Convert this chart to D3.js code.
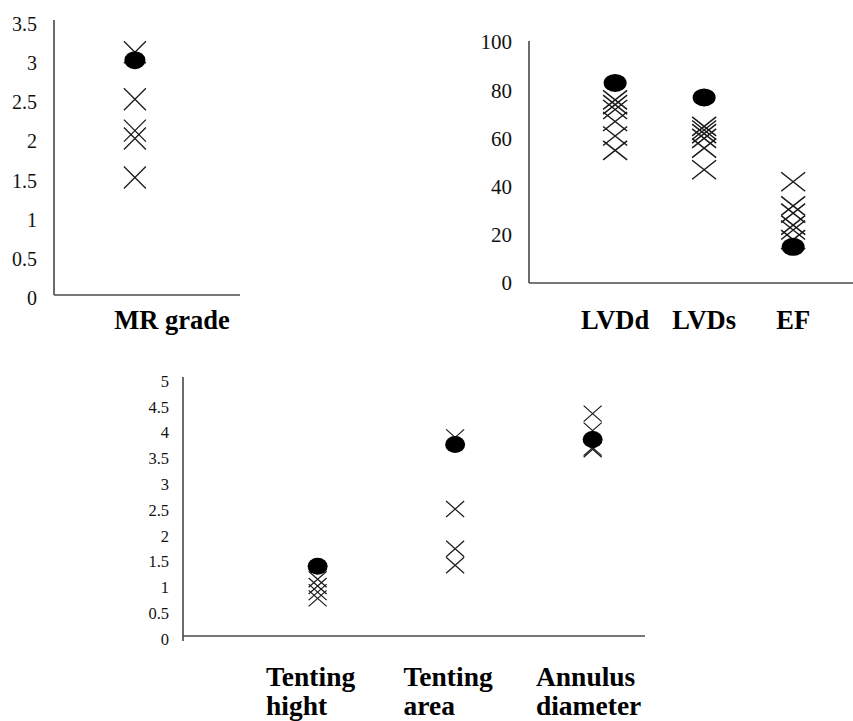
<!DOCTYPE html>
<html>
<head>
<meta charset="utf-8">
<script src="https://cdn.jsdelivr.net/npm/d3@7"></script>
<style>
  body { margin: 0; background: #fff; }
  svg { display: block; font-family: "Liberation Serif", "Times New Roman", serif; }
</style>
</head>
<body>
<svg id="chart" width="853" height="721"></svg>
<script>
// MR grade panel
const mrCategories = ['MR grade']
const mrTicks = [0, 0.5, 1, 1.5, 2, 2.5, 3, 3.5]
const mrDots = [3.0]
const mrCrosses = [[3.1, 2.5, 2.1, 2.0, 1.5]]

// LV dimensions panel
const lvCategories = ['LVDd', 'LVDs', 'EF']
const lvTicks = [0, 20, 40, 60, 80, 100]
const lvDots = [83, 77, 15]
const lvCrosses = [
    [76, 74, 72, 67, 61, 55],
    [65, 63.5, 62, 60, 56, 47],
    [42, 32, 29, 24, 22, 18]
]

// tenting / annulus panel
const tentCategories = ['Tenting hight', 'Tenting area', 'Annulus diameter']
const tentTicks = [0, 0.5, 1, 1.5, 2, 2.5, 3, 3.5, 4, 4.5, 5]
const tentDots = [1.35, 3.71, 3.81]
const tentCrosses = [
    [1.1, 0.97, 0.85, 0.73],
    [3.85, 2.46, 1.69, 1.37],
    [4.31, 3.98, 3.65, 3.62]
]

const svg = d3.select('#chart')

function drawPanel(o) {
    const y = d3.scaleLinear().domain([0, o.yMax]).range([o.bottom, o.top])
    const x = d3.scalePoint()
        .domain(o.categories)
        .range([o.left, o.right])
        .padding(o.padding)
        .align(o.align)

    const g = svg.append('g')

    // axis lines
    g.append('line')
        .attr('x1', o.left).attr('x2', o.left)
        .attr('y1', y(o.yMax) - 1).attr('y2', y(0) + (o.yExtend || 0))
        .attr('stroke', '#3a3a3a').attr('stroke-width', 1.5)
    g.append('line')
        .attr('x1', o.left).attr('x2', o.right)
        .attr('y1', y(0)).attr('y2', y(0))
        .attr('stroke', '#4a4a4a').attr('stroke-width', 1.5)

    // tick labels
    g.selectAll('text.tick')
        .data(o.ticks)
        .join('text')
        .attr('class', 'tick')
        .attr('x', o.left - o.tickGap)
        .attr('y', d => y(d) + o.tickDy)
        .attr('dy', '0.35em')
        .attr('text-anchor', 'end')
        .attr('font-size', o.tickFont)
        .attr('fill', '#111')
        .text(d => d)

    // crosses first, filled dots on top
    const crossData = o.crosses.flatMap((vals, i) => vals.map(v => ({ cat: o.categories[i], v })))
    const [w, h] = o.cross
    g.selectAll('path.cross')
        .data(crossData)
        .join('path')
        .attr('class', 'cross')
        .attr('transform', d => `translate(${x(d.cat)},${y(d.v)})`)
        .attr('d', `M${-w},${-h}L${w},${h}M${-w},${h}L${w},${-h}`)
        .attr('fill', 'none')
        .attr('stroke', '#1a1a1a')
        .attr('stroke-width', o.crossWidth)

    g.selectAll('ellipse.dot')
        .data(o.dots)
        .join('ellipse')
        .attr('class', 'dot')
        .attr('cx', (d, i) => x(o.categories[i]))
        .attr('cy', d => y(d))
        .attr('rx', o.dot[0])
        .attr('ry', o.dot[1])
        .attr('fill', '#000')

    // category labels
    const labels = g.selectAll('text.cat')
        .data(o.categories)
        .join('text')
        .attr('class', 'cat')
        .attr('font-size', o.labelFont)
        .attr('font-weight', 'bold')
        .attr('fill', '#000')
        .attr('y', o.labelY)

    if (o.wrap) {
        labels.each(function (d) {
            const t = d3.select(this)
            const words = d.split(' ')
            words.forEach((word, k) => {
                t.append('tspan').attr('dy', k === 0 ? 0 : o.lineHeight).text(word)
            })
            const first = t.select('tspan').node().getComputedTextLength()
            const left = x(d) - first / 2 + o.labelDx
            t.selectAll('tspan').attr('x', left)
        })
    } else {
        labels
            .attr('x', d => x(d) + o.labelDx)
            .attr('text-anchor', 'middle')
            .text(d => d)
    }
}

drawPanel({
    categories: mrCategories, ticks: mrTicks, dots: mrDots, crosses: mrCrosses,
    left: 54, right: 240, top: 21, bottom: 295, yMax: 3.5,
    padding: 0.5, align: 0.435,
    tickGap: 17, tickDy: 3, tickFont: 20,
    labelFont: 26.5, labelY: 329, labelDx: 37,
    dot: [10.5, 9], cross: [11, 11], crossWidth: 1.3
})

drawPanel({
    categories: lvCategories, ticks: lvTicks, dots: lvDots, crosses: lvCrosses,
    left: 529, right: 853, top: 42, bottom: 283, yMax: 100,
    padding: 0.82, align: 0.59,
    tickGap: 17, tickDy: 0, tickFont: 21,
    labelFont: 26.5, labelY: 329, labelDx: 0,
    dot: [11.5, 9], cross: [12, 9.5], crossWidth: 1.5
})

drawPanel({
    categories: tentCategories, ticks: tentTicks, dots: tentDots, crosses: tentCrosses,
    left: 183, right: 645, top: 378, bottom: 636, yMax: 5, yExtend: 5,
    padding: 0.68, align: 0.72,
    tickGap: 14, tickDy: 3, tickFont: 16.5,
    labelFont: 27.5, labelY: 686, labelDx: -7, wrap: true, lineHeight: 29,
    dot: [10, 8.5], cross: [9, 8], crossWidth: 1.2
})
</script>
</body>
</html>
